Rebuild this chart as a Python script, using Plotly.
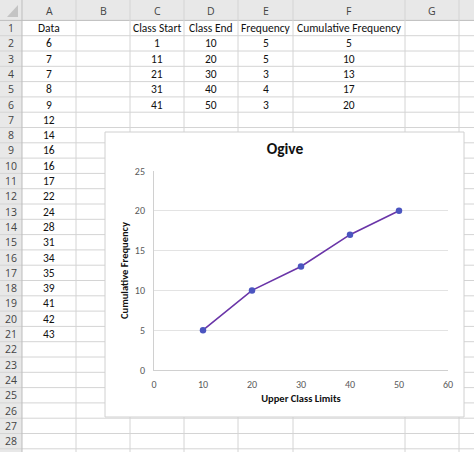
import plotly.graph_objects as go

# spreadsheet contents
col_letters = ["A", "B", "C", "D", "E", "F", "G"]
data_values = [6, 7, 7, 8, 9, 12, 14, 16, 16, 17, 22, 24, 28, 31, 34, 35, 39, 41, 42, 43]
class_start = [1, 11, 21, 31, 41]
class_end = [10, 20, 30, 40, 50]
frequency = [5, 5, 3, 4, 3]
cum_frequency = [5, 10, 13, 17, 20]
headers = {"A": "Data", "C": "Class Start", "D": "Class End",
           "E": "Frequency", "F": "Cumulative Frequency"}
n_rows = 28

W, H = 474, 452


def fx(px):
    return px / W


def fy(py):
    return 1 - py / H


# sheet geometry (pixels)
col_edges = [22, 76, 130, 184, 238, 293, 405, 459, 520]
head_h = 20.4
row_h = 15.3

shapes = []
annotations = []

# header backgrounds
shapes.append(dict(type="rect", xref="paper", yref="paper", x0=0, x1=1,
                   y0=fy(head_h), y1=1, fillcolor="#e8e8e8", line_width=0, layer="below"))
shapes.append(dict(type="rect", xref="paper", yref="paper", x0=0, x1=fx(col_edges[0]),
                   y0=0, y1=1, fillcolor="#e8e8e8", line_width=0, layer="below"))

# horizontal grid lines
for r in range(n_rows + 2):
    yy = head_h + r * row_h
    if yy > H:
        break
    shapes.append(dict(type="line", xref="paper", yref="paper", x0=0, x1=1,
                       y0=fy(yy), y1=fy(yy),
                       line=dict(color="#d4d4d4" if r else "#bdbdbd", width=1), layer="below"))

# vertical grid lines
for i, xe in enumerate(col_edges):
    if xe > W:
        break
    shapes.append(dict(type="line", xref="paper", yref="paper", x0=fx(xe), x1=fx(xe),
                       y0=0, y1=1,
                       line=dict(color="#d4d4d4" if i else "#bdbdbd", width=1), layer="below"))

# select-all triangle
shapes.append(dict(type="path", xref="paper", yref="paper",
                   path="M %f,%f L %f,%f L %f,%f Z" % (fx(18), fy(17), fx(18), fy(5), fx(7), fy(17)),
                   fillcolor="#c4c4c4", line_width=0, layer="below"))

cell_font = dict(family="Carlito, Lato, sans-serif", size=11.5, color="#111111")
head_font = dict(family="Open Sans, sans-serif", size=10.5, color="#444444")


def label(px, py, text, font):
    annotations.append(dict(x=fx(px), y=fy(py), xref="paper", yref="paper",
                            xanchor="center", yanchor="middle",
                            text=str(text), showarrow=False, font=font))


# column letters
for i, c in enumerate(col_letters):
    label((col_edges[i] + col_edges[i + 1]) / 2, head_h / 2 + 1, c, head_font)

# row numbers
for r in range(1, n_rows + 1):
    label(11, head_h + (r - 0.5) * row_h, r, head_font)


def cell(col, row, text):
    i = col_letters.index(col)
    label((col_edges[i] + col_edges[i + 1]) / 2, head_h + (row - 0.5) * row_h, text, cell_font)


for col, txt in headers.items():
    cell(col, 1, txt)
for k, v in enumerate(data_values):
    cell("A", k + 2, v)
for k in range(len(class_start)):
    cell("C", k + 2, class_start[k])
    cell("D", k + 2, class_end[k])
    cell("E", k + 2, frequency[k])
    cell("F", k + 2, cum_frequency[k])

# chart area box
shapes.append(dict(type="rect", xref="paper", yref="paper", x0=fx(105), x1=fx(464),
                   y0=fy(417), y1=fy(132), fillcolor="white",
                   line=dict(color="#d0d0d0", width=1), layer="below"))

fig = go.Figure()
fig.add_trace(go.Scatter(
    x=class_end, y=cum_frequency, mode="lines+markers",
    line=dict(color="#6a35a8", width=1.6),
    marker=dict(color="#4b55c0", size=6.5),
    showlegend=False,
))

tick_font = dict(family="Carlito, Lato, sans-serif", size=10, color="#595959")
ttl_font = dict(family="Carlito, Lato, sans-serif", size=10.5, color="#111111")

fig.update_layout(
    width=W, height=H,
    margin=dict(l=0, r=0, t=0, b=0),
    paper_bgcolor="white",
    plot_bgcolor="rgba(0,0,0,0)",
    shapes=shapes,
    annotations=annotations,
    title=dict(text="<b>Ogive</b>", x=fx(285), y=fy(149), xref="paper", yref="paper",
               xanchor="center", yanchor="middle",
               font=dict(family="Carlito, Lato, sans-serif", size=15.5, color="#111111")),
    xaxis=dict(domain=[fx(154), fx(448)], range=[0, 60], dtick=10,
               showgrid=False, zeroline=False, showline=True, linecolor="#d0d0d0",
               ticks="", tickfont=tick_font, fixedrange=True, automargin=False,
               ticklabelstandoff=5,
               title=dict(text="<b>Upper Class Limits</b>", font=ttl_font, standoff=4)),
    yaxis=dict(domain=[fy(370), fy(171)], range=[0, 25], dtick=5,
               showgrid=True, gridcolor="#e3e3e3", zeroline=False,
               showline=True, linecolor="#d0d0d0", automargin=False,
               ticks="", tickfont=tick_font, fixedrange=True, ticklabelstandoff=6,
               title=dict(text="<b>Cumulative Frequency</b>", font=ttl_font, standoff=4)),
)

fig.write_html("out.html", config={"displayModeBar": False},
               post_script="document.body.style.margin='0';document.body.style.overflow='hidden';")
